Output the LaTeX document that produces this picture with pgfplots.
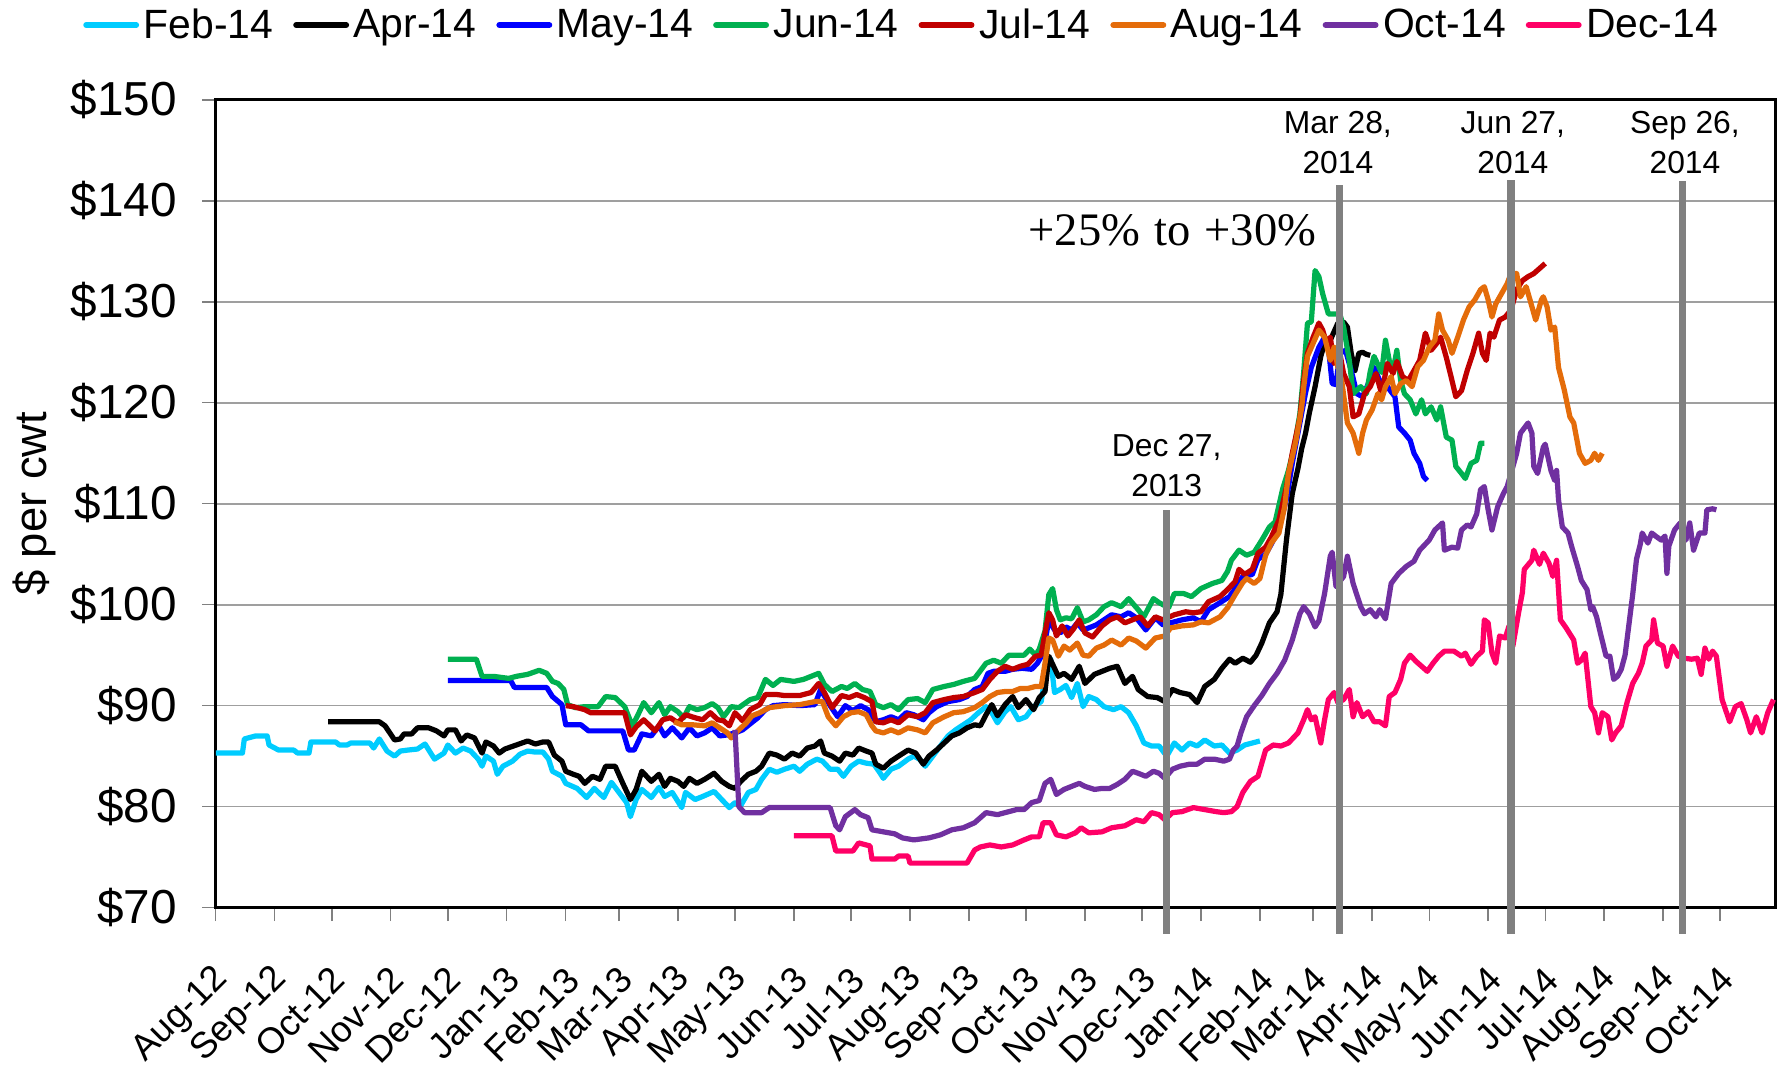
\documentclass[border=0pt]{standalone}
\usepackage{pgfplots}
\pgfplotsset{compat=1.18}
\usepackage{fontspec}
\setmainfont{Liberation Sans}
\newfontfamily\seriffont{Liberation Serif}
\definecolor{cFeb}{RGB}{0,204,255}
\definecolor{cApr}{RGB}{0,0,0}
\definecolor{cMay}{RGB}{0,0,255}
\definecolor{cJun}{RGB}{0,176,80}
\definecolor{cJul}{RGB}{192,0,0}
\definecolor{cAug}{RGB}{228,108,10}
\definecolor{cOct}{RGB}{112,48,160}
\definecolor{cDec}{RGB}{255,0,102}
\begin{document}
\begin{tikzpicture}
\useasboundingbox (-95pt,-73.5pt) rectangle (689pt,399.5pt);
\begin{axis}[
  scale only axis,
  width=686.5pt, height=355.5pt,
  xmin=0, xmax=820, ymin=70, ymax=150,
  clip=false,
  axis line style={line width=1.3pt, black},
  tick align=outside,
  major tick length=6pt,
  tick style={gray, line width=0.6pt},
  xtick pos=bottom, ytick pos=left,
  ymajorgrids,
  major grid style={gray!75, line width=0.75pt},
  ytick={70,80,90,100,110,120,130,140,150},
  yticklabels={\$70,\$80,\$90,\$100,\$110,\$120,\$130,\$140,\$150},
  yticklabel style={font=\fontsize{21}{24}\selectfont, inner sep=0pt, xshift=-11pt},
  xtick={0,31,61,92,122,153,184,212,243,273,304,334,365,396,426,457,487,518,549,577,608,638,669,699,730,761,791},
  xticklabels={Aug-12,Sep-12,Oct-12,Nov-12,Dec-12,Jan-13,Feb-13,Mar-13,Apr-13,May-13,Jun-13,Jul-13,Aug-13,Sep-13,Oct-13,Nov-13,Dec-13,Jan-14,Feb-14,Mar-14,Apr-14,May-14,Jun-14,Jul-14,Aug-14,Sep-14,Oct-14},
  xticklabel style={font=\fontsize{16}{18}\selectfont, inner sep=0pt, xshift=3pt, yshift=-23pt, rotate=45, anchor=east},
  ylabel={\$ per cwt},
  every axis y label/.style={at={(axis description cs:-0.1165,0.5)}, rotate=90, anchor=center, font=\fontsize{20}{24}\selectfont},
  legend columns=8,
  legend style={at={(axis description cs:0.4406,1.0928)}, anchor=center, draw=none, fill=none,
    font=\fontsize{18}{20}\selectfont, inner sep=0pt,
    /tikz/every even column/.append style={column sep=6.8pt}},
  legend image code/.code={\draw[#1, line width=2.6pt, line cap=round] (0pt,0pt) -- (22pt,0pt);},
  every axis plot/.append style={line width=2.3pt, line join=round},
]
% Feb-14
\addplot[cFeb] coordinates {(0,85.3)(14,85.3)(15,86.7)(21,87.0)(27,87.0)(28,86.1)(33,85.6)(41,85.6)(43,85.3)(49,85.3)(50,86.4)(63,86.4)(65,86.1)(69,86.1)(71,86.3)(81,86.3)(83,85.8)(86,86.7)(90,85.5)(94,85.0)(97,85.5)(101,85.6)(106,85.7)(110,86.2)(115,84.7)(120,85.3)(122,86.1)(126,85.3)(130,85.8)(134,85.5)(138,84.7)(140,84.0)(142,85.0)(146,84.5)(148,83.2)(151,84.0)(156,84.5)(160,85.2)(164,85.5)(168,85.4)(172,85.4)(175,84.7)(177,83.5)(182,83.0)(184,82.3)(190,81.8)(195,80.9)(199,81.8)(204,80.9)(208,82.4)(212,81.4)(216,80.4)(218,79.0)(221,80.7)(224,81.7)(229,80.9)(233,81.9)(236,81.0)(240,81.4)(245,79.9)(247,81.4)(252,80.7)(256,81.0)(262,81.5)(266,80.7)(270,79.9)(273,80.4)(276,80.1)(280,81.4)(284,81.7)(287,82.7)(291,83.7)(295,83.4)(299,83.7)(304,84.0)(307,83.5)(311,84.2)(316,84.7)(319,84.5)(323,83.7)(327,83.7)(330,83.0)(334,84.0)(338,84.5)(342,84.3)(346,84.2)(349,83.4)(351,82.8)(355,83.7)(359,84.0)(364,84.7)(367,85.0)(370,84.7)(373,84.0)(377,85.0)(381,86.0)(385,87.0)(389,87.6)(393,88.1)(397,88.6)(401,89.3)(405,89.9)(408,89.3)(411,88.3)(415,89.4)(418,89.9)(422,88.6)(426,88.9)(430,89.9)(434,90.4)(436,92.9)(439,94.6)(441,91.3)(444,91.6)(447,92.0)(450,90.8)(453,92.2)(456,89.9)(459,90.9)(463,90.6)(467,89.9)(472,89.6)(476,89.9)(480,89.3)(484,88.0)(488,86.3)(492,86.0)(496,86.0)(500,85.0)(504,86.3)(508,85.6)(512,86.3)(516,86.0)(520,86.6)(525,86.0)(529,86.1)(533,85.3)(537,85.6)(541,86.1)(545,86.3)(549,86.5)};
\addlegendentry{Feb-14}
% Apr-14
\addplot[cApr] coordinates {(59,88.4)(86,88.4)(89,88.0)(94,86.6)(97,86.7)(99,87.2)(103,87.2)(106,87.8)(112,87.8)(116,87.5)(120,87.0)(122,87.6)(126,87.6)(129,86.5)(132,87.1)(136,86.8)(140,85.3)(142,86.4)(146,86.0)(149,85.3)(152,85.7)(158,86.1)(164,86.5)(168,86.2)(172,86.4)(175,86.4)(178,85.1)(182,84.5)(184,83.5)(188,83.2)(191,83.0)(194,82.3)(198,83.0)(202,82.7)(205,84.0)(210,84.0)(214,82.3)(218,80.7)(221,81.7)(224,83.5)(229,82.5)(233,83.2)(236,82.0)(239,82.8)(243,82.5)(246,82.0)(249,82.8)(253,82.3)(257,82.7)(262,83.3)(266,82.5)(270,82.0)(273,81.8)(276,82.5)(280,83.2)(284,83.5)(287,84.0)(291,85.3)(295,85.1)(299,84.7)(303,85.3)(307,85.0)(311,85.8)(315,86.0)(318,86.5)(320,85.3)(324,85.0)(328,84.5)(331,85.3)(335,85.1)(338,85.8)(342,85.5)(345,85.3)(347,84.2)(351,83.8)(355,84.5)(359,85.0)(364,85.6)(368,85.3)(372,84.2)(375,85.0)(379,85.6)(383,86.3)(387,87.0)(391,87.3)(395,87.8)(399,88.1)(402,88.0)(405,89.1)(408,90.1)(411,89.0)(415,90.1)(419,90.9)(422,89.8)(426,90.6)(430,89.6)(433,90.8)(436,91.4)(438,94.9)(440,94.1)(443,92.9)(446,93.2)(450,92.6)(454,93.9)(457,92.2)(462,93.1)(466,93.4)(470,93.7)(474,93.9)(478,92.2)(482,92.9)(485,91.6)(490,90.9)(495,90.8)(499,90.4)(503,91.6)(507,91.3)(512,91.1)(516,90.3)(520,91.9)(525,92.6)(529,93.7)(533,94.6)(536,94.2)(540,94.7)(544,94.3)(547,95.0)(550,96.2)(554,98.2)(558,99.3)(560,101.0)(563,106.5)(566,111.0)(569,113.5)(571,115.5)(573,117.0)(575,119.0)(578,121.6)(581,124.6)(583,125.9)(586,126.2)(590,127.9)(593,128.0)(595,127.5)(597,124.9)(599,123.2)(601,124.9)(603,125.0)(605,124.8)(607,124.7)};
\addlegendentry{Apr-14}
% May-14
\addplot[cMay] coordinates {(122,92.5)(155,92.5)(157,91.8)(174,91.8)(177,90.9)(182,90.1)(184,88.1)(192,88.1)(196,87.5)(214,87.5)(217,85.6)(220,85.6)(224,87.2)(229,87.0)(233,88.0)(236,87.0)(240,87.8)(245,86.8)(249,87.8)(253,87.0)(257,87.3)(261,87.8)(265,87.0)(269,87.1)(273,87.3)(277,87.6)(281,88.2)(285,88.8)(289,89.6)(293,90.0)(299,90.1)(307,90.0)(315,90.1)(318,91.6)(323,90.0)(327,88.9)(331,90.0)(335,89.5)(339,90.0)(343,89.6)(347,88.4)(351,88.6)(355,88.9)(359,88.6)(363,89.3)(367,89.1)(372,88.6)(375,89.3)(379,89.9)(385,90.4)(391,90.6)(395,90.9)(399,91.6)(403,91.9)(406,93.2)(409,93.4)(415,93.4)(419,93.6)(424,93.7)(429,93.6)(432,94.2)(435,95.2)(438,98.5)(441,97.5)(444,97.2)(447,97.8)(450,97.5)(453,98.2)(456,97.5)(459,97.7)(463,98.0)(467,98.5)(471,99.0)(476,98.8)(480,99.2)(484,98.7)(489,97.5)(494,98.7)(498,98.0)(502,98.2)(508,98.5)(514,98.7)(518,98.3)(522,99.5)(528,100.2)(533,100.8)(536,101.6)(540,102.8)(545,103.0)(548,104.5)(552,105.0)(555,106.0)(559,107.5)(563,110.5)(566,114.0)(570,118.0)(573,121.0)(576,123.5)(580,125.5)(583,126.5)(585,125.5)(587,121.9)(589,121.8)(591,124.9)(594,125.2)(597,123.2)(600,120.9)(603,120.6)(606,121.9)(609,123.5)(612,122.2)(616,121.6)(620,120.6)(622,117.6)(625,117.0)(628,116.3)(630,115.0)(633,114.0)(635,112.7)(637,112.3)};
\addlegendentry{May-14}
% Jun-14
\addplot[cJun] coordinates {(122,94.6)(137,94.6)(140,92.9)(146,92.9)(154,92.7)(158,92.9)(164,93.1)(170,93.5)(174,93.2)(177,92.4)(180,92.2)(183,91.6)(185,90.1)(189,89.8)(194,89.9)(201,89.9)(205,90.9)(210,90.8)(215,89.9)(219,88.0)(222,89.1)(225,90.3)(229,89.3)(233,90.3)(236,89.1)(239,89.9)(243,89.4)(246,88.8)(249,89.9)(253,89.6)(257,89.8)(261,90.2)(264,89.8)(267,88.9)(271,89.9)(275,89.8)(281,90.6)(285,90.8)(289,92.6)(293,92.0)(297,92.6)(304,92.4)(309,92.6)(313,92.9)(317,93.2)(320,92.1)(324,91.4)(329,91.9)(332,91.7)(336,92.2)(340,91.6)(344,91.4)(347,90.1)(351,89.8)(355,90.1)(359,89.6)(364,90.6)(369,90.7)(373,90.3)(377,91.6)(383,91.9)(388,92.1)(393,92.4)(399,92.7)(405,94.2)(409,94.5)(413,94.2)(417,95.0)(421,95.0)(425,95.0)(428,95.6)(431,95.0)(433,95.6)(436,97.4)(438,101.0)(440,101.6)(442,99.5)(444,98.5)(447,98.7)(450,98.6)(453,99.7)(456,98.3)(459,98.5)(463,99.0)(467,99.8)(471,100.2)(476,99.8)(480,100.6)(485,99.5)(488,98.8)(493,100.6)(496,100.2)(501,99.7)(504,101.1)(509,101.1)(513,100.8)(518,101.6)(524,102.1)(529,102.4)(532,103.3)(534,104.4)(538,105.4)(542,104.9)(546,105.2)(550,106.4)(554,107.7)(557,108.2)(561,111.5)(564,113.3)(567,115.6)(570,118.9)(572,123.0)(574,127.9)(576,128.0)(578,133.1)(580,132.5)(582,130.8)(585,128.8)(588,128.8)(591,128.8)(593,127.5)(596,124.2)(598,120.9)(602,121.6)(605,120.9)(607,123.1)(609,124.6)(611,123.8)(613,123.0)(615,126.2)(617,124.2)(619,123.2)(621,125.2)(623,122.2)(625,120.9)(628,120.3)(631,118.9)(634,120.3)(636,118.9)(639,119.6)(642,118.3)(644,119.6)(647,116.6)(650,116.3)(652,113.7)(655,113.0)(657,112.5)(660,114.0)(663,114.3)(665,116.0)(667,116.0)};
\addlegendentry{Jun-14}
% Jul-14
\addplot[cJul] coordinates {(184,90.0)(188,89.9)(194,89.6)(197,89.3)(215,89.3)(218,87.1)(221,87.9)(225,88.6)(231,87.5)(235,88.6)(239,88.8)(243,88.3)(247,89.1)(252,88.8)(256,88.6)(260,89.3)(264,88.6)(267,88.5)(270,88.0)(273,89.3)(277,88.5)(281,89.6)(286,90.1)(289,91.1)(295,91.1)(299,91.0)(307,91.0)(313,91.3)(317,92.2)(320,91.3)(324,89.8)(329,91.0)(333,90.8)(337,91.1)(341,90.8)(345,90.4)(347,88.4)(351,88.3)(355,88.6)(359,88.3)(364,89.1)(369,88.9)(373,89.3)(377,90.3)(383,90.6)(388,90.8)(393,90.9)(399,91.3)(403,91.6)(407,92.6)(411,93.4)(415,93.9)(419,93.6)(423,93.9)(427,94.1)(431,94.9)(434,95.0)(436,97.2)(438,99.2)(440,98.5)(442,96.9)(445,97.9)(448,96.9)(451,97.6)(454,98.5)(457,97.2)(461,96.8)(466,97.9)(470,98.5)(474,98.8)(478,98.2)(482,98.5)(486,98.8)(490,97.9)(494,98.8)(498,98.5)(504,99.0)(510,99.3)(514,99.2)(518,99.3)(522,100.3)(528,100.8)(532,101.5)(536,102.3)(538,103.5)(541,103.0)(545,103.5)(548,105.1)(552,105.7)(555,106.7)(559,108.4)(563,111.7)(566,115.0)(570,118.5)(572,122.2)(574,124.9)(577,126.5)(580,127.9)(582,127.2)(584,125.9)(586,126.5)(588,123.9)(591,124.9)(593,122.9)(596,121.6)(598,118.6)(601,118.9)(604,120.9)(607,121.6)(610,122.9)(613,120.9)(616,123.9)(619,122.9)(621,124.1)(624,122.6)(627,122.2)(630,123.2)(633,124.2)(636,126.9)(639,125.2)(642,125.9)(644,126.5)(647,124.5)(650,122.2)(652,120.6)(655,121.2)(658,123.2)(661,124.9)(664,126.9)(666,124.9)(668,124.2)(670,126.9)(672,126.5)(675,128.2)(678,128.5)(681,129.2)(684,131.2)(687,132.1)(690,132.5)(693,132.8)(696,133.3)(699,133.8)};
\addlegendentry{Jul-14}
% Aug-14
\addplot[cAug] coordinates {(241,88.4)(245,88.1)(251,88.1)(257,88.0)(261,88.3)(265,87.8)(269,87.3)(271,86.8)(275,87.6)(279,88.3)(282,89.0)(286,89.3)(291,89.8)(299,90.0)(307,90.1)(315,90.4)(319,90.4)(322,88.9)(326,88.0)(330,88.9)(334,89.3)(338,89.4)(342,89.1)(345,88.0)(347,87.5)(351,87.3)(355,87.6)(359,87.3)(364,87.8)(369,87.6)(373,87.3)(377,88.3)(383,88.9)(388,89.3)(393,89.4)(399,89.8)(403,90.3)(407,90.9)(411,91.3)(415,91.4)(419,91.4)(423,91.7)(427,91.7)(431,91.9)(434,91.9)(436,94.2)(438,96.7)(440,96.5)(443,94.9)(446,95.9)(449,95.5)(453,96.2)(456,95.0)(459,94.9)(463,95.7)(467,96.0)(471,96.5)(476,96.0)(480,96.7)(484,96.4)(489,95.7)(494,96.7)(499,96.9)(502,97.7)(508,97.9)(514,98.0)(518,98.3)(522,98.2)(528,98.8)(532,99.7)(536,101.0)(540,102.2)(542,102.6)(546,102.1)(549,102.6)(552,104.9)(555,106.1)(559,107.1)(562,109.7)(564,113.0)(568,116.3)(571,119.6)(572,121.5)(574,124.6)(577,125.9)(580,127.2)(583,126.5)(586,124.2)(588,125.5)(590,123.5)(592,122.2)(595,118.0)(598,117.0)(601,115.0)(603,117.0)(605,118.3)(608,119.3)(611,120.9)(613,120.3)(615,121.6)(618,122.6)(620,120.9)(623,121.9)(626,122.2)(629,121.6)(632,123.6)(635,124.2)(638,125.5)(641,126.2)(643,128.8)(645,127.2)(648,126.2)(650,124.9)(653,126.5)(656,128.2)(659,129.5)(662,130.2)(665,131.2)(667,131.5)(669,130.2)(671,128.5)(673,129.8)(676,130.8)(679,131.8)(681,132.8)(684,132.8)(686,130.5)(689,131.5)(691,130.2)(694,128.2)(697,130.2)(698,130.5)(700,129.5)(702,127.2)(704,127.5)(706,123.5)(709,121.3)(712,118.6)(714,118.0)(717,115.0)(720,114.0)(723,114.3)(725,115.0)(727,114.3)(729,115.0)};
\addlegendentry{Aug-14}
% Oct-14
\addplot[cOct] coordinates {(273,87.6)(275,80.0)(278,79.4)(287,79.4)(291,79.9)(323,79.9)(326,78.1)(328,77.7)(331,79.0)(336,79.7)(339,79.2)(343,78.9)(345,77.7)(351,77.5)(357,77.3)(361,76.9)(367,76.7)(375,76.9)(381,77.2)(387,77.7)(393,77.9)(399,78.4)(405,79.4)(411,79.2)(415,79.4)(421,79.7)(425,79.7)(429,80.4)(433,80.6)(436,82.3)(439,82.7)(442,81.2)(446,81.7)(450,82.0)(454,82.3)(457,82.0)(462,81.7)(466,81.8)(470,81.8)(474,82.2)(478,82.7)(482,83.5)(485,83.3)(489,83.0)(493,83.5)(496,83.3)(499,82.8)(503,83.7)(507,84.0)(512,84.2)(516,84.2)(520,84.7)(525,84.7)(530,84.5)(533,84.7)(535,85.6)(537,86.0)(539,87.3)(542,88.9)(546,90.0)(550,91.0)(554,92.2)(558,93.2)(562,94.5)(566,96.5)(570,99.1)(572,99.8)(575,99.1)(578,97.8)(580,98.4)(583,101.1)(586,104.8)(587,105.2)(589,101.8)(593,102.8)(595,104.8)(598,102.1)(602,99.8)(604,99.1)(607,99.5)(610,98.8)(612,99.5)(615,98.6)(618,102.1)(622,103.1)(626,103.8)(630,104.3)(633,105.4)(638,106.4)(641,107.4)(645,108.1)(646,105.4)(650,105.7)(653,105.6)(655,107.4)(658,107.9)(660,107.7)(663,109.0)(665,111.4)(667,111.7)(669,109.4)(671,107.4)(674,109.7)(677,111.0)(679,111.7)(681,113.0)(684,115.0)(686,117.0)(690,118.0)(692,117.0)(693,113.7)(695,113.0)(698,115.6)(699,115.9)(702,113.3)(704,112.3)(705,113.3)(706,110.4)(708,107.7)(711,107.1)(713,105.7)(716,103.8)(718,102.4)(721,101.5)(723,99.5)(724,99.8)(726,98.8)(728,97.2)(731,94.9)(733,94.9)(735,92.6)(737,92.9)(739,93.6)(741,95.0)(743,98.0)(745,101.0)(747,104.5)(749,106.0)(750,107.1)(753,106.1)(755,107.1)(757,106.8)(760,106.4)(762,106.8)(763,103.1)(764,105.8)(767,107.4)(770,108.1)(773,106.4)(775,108.1)(777,105.4)(780,107.1)(783,107.1)(784,109.4)(787,109.5)(789,109.4)};
\addlegendentry{Oct-14}
% Dec-14
\addplot[cDec] coordinates {(304,77.1)(324,77.1)(326,75.6)(335,75.6)(338,76.4)(342,76.2)(344,76.1)(345,74.8)(357,74.8)(359,75.1)(364,75.1)(365,74.4)(395,74.4)(399,75.7)(402,76.0)(407,76.2)(413,76.0)(419,76.2)(425,76.7)(429,77.0)(433,77.0)(435,78.4)(439,78.4)(442,77.2)(447,77.0)(452,77.4)(455,77.9)(459,77.4)(466,77.5)(471,77.9)(478,78.1)(484,78.7)(488,78.5)(492,79.4)(496,79.2)(499,78.7)(503,79.4)(508,79.5)(514,79.9)(520,79.7)(526,79.5)(530,79.4)(534,79.5)(537,80.0)(540,81.4)(544,82.5)(548,83.0)(552,85.6)(556,86.1)(560,86.0)(564,86.3)(569,87.3)(572,88.6)(574,89.6)(576,88.6)(578,88.9)(581,86.3)(583,88.6)(585,90.6)(588,91.3)(590,90.3)(593,90.6)(596,91.6)(598,88.9)(600,90.3)(603,88.9)(606,89.4)(609,88.4)(612,88.4)(615,88.0)(617,90.9)(620,91.3)(623,92.6)(625,94.2)(628,95.0)(631,94.4)(634,93.9)(637,93.4)(640,94.2)(643,94.9)(646,95.4)(651,95.4)(655,94.9)(657,95.2)(660,94.1)(663,94.9)(666,95.4)(667,98.5)(669,98.2)(671,95.2)(673,94.2)(675,96.9)(678,96.7)(680,97.9)(682,95.9)(685,99.2)(687,101.2)(688,103.5)(692,104.4)(693,105.4)(696,104.0)(698,105.1)(701,104.1)(703,102.8)(705,104.4)(707,98.5)(710,97.7)(714,96.5)(716,94.2)(718,94.5)(720,95.2)(723,89.9)(725,89.3)(727,87.3)(729,89.3)(732,88.9)(734,86.6)(736,87.3)(739,88.0)(742,90.3)(745,92.2)(748,93.2)(750,94.2)(752,95.9)(755,96.5)(756,98.5)(758,96.2)(761,95.9)(763,93.9)(766,95.9)(769,94.9)(772,94.7)(776,94.6)(779,94.7)(781,93.1)(783,95.7)(785,94.6)(787,95.4)(789,94.9)(792,90.6)(796,88.4)(799,89.9)(802,90.2)(805,88.6)(807,87.3)(810,88.9)(813,87.3)(816,89.3)(819,90.6)};
\addlegendentry{Dec-14}
% event lines and notes
\draw[gray, line width=3.2pt] (axis cs:500,67.4) -- (axis cs:500,109.4);
\draw[gray, line width=3.2pt] (axis cs:591,67.4) -- (axis cs:591,141.6);
\draw[gray, line width=3.2pt] (axis cs:681,67.4) -- (axis cs:681,142.1);
\draw[gray, line width=3.2pt] (axis cs:771,67.4) -- (axis cs:771,142.0);
\node[align=center, font=\fontsize{14}{17.5}\selectfont] at (axis cs:500,113.8) {Dec 27,\\2013};
\node[align=center, font=\fontsize{14}{17.5}\selectfont] at (axis cs:590,145.8) {Mar 28,\\2014};
\node[align=center, font=\fontsize{14}{17.5}\selectfont] at (axis cs:682,145.8) {Jun 27,\\2014};
\node[align=center, font=\fontsize{14}{17.5}\selectfont] at (axis cs:772.5,145.8) {Sep 26,\\2014};
\node[font=\seriffont\fontsize{20.5}{24}\selectfont] at (axis cs:503,137.1) {+25\%\hspace{6.2pt}to\hspace{6.2pt}+30\%};
\end{axis}
\end{tikzpicture}
\end{document}
